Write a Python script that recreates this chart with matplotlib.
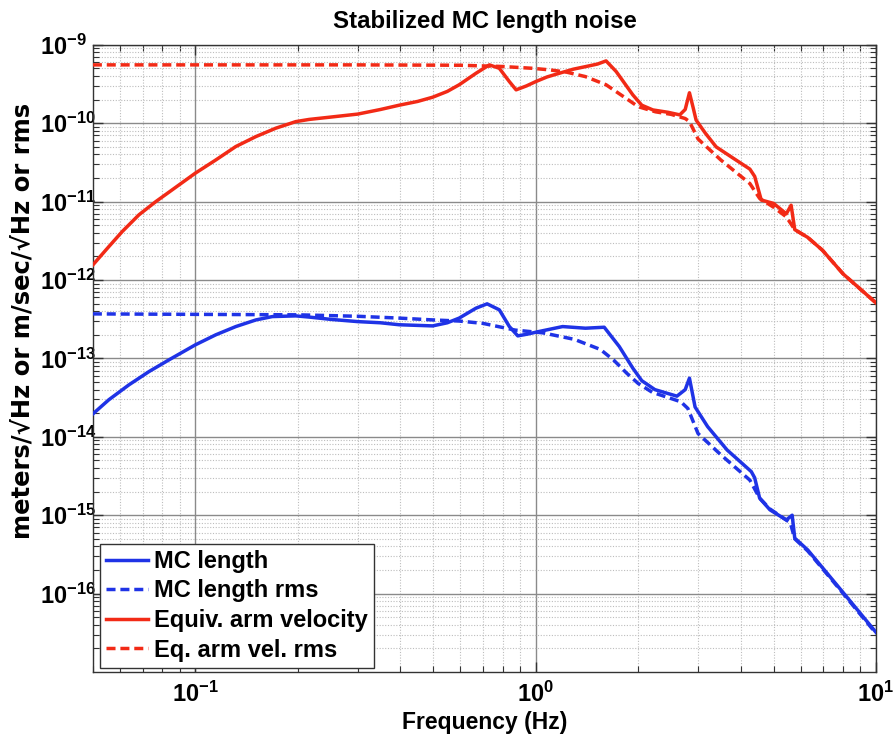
import numpy
import matplotlib
matplotlib.use('Agg')
import matplotlib.pyplot as plt
from matplotlib.ticker import LogLocator, FuncFormatter, NullFormatter

# (Hz, meters/rtHz or m/sec/rtHz)
arm_freq = [0.05, 0.0557, 0.061, 0.0683, 0.0765, 0.0856, 0.1, 0.1148, 0.1315, 0.1507,
            0.1724, 0.1973, 0.216, 0.25, 0.3, 0.35, 0.397, 0.45, 0.498, 0.55, 0.596,
            0.668, 0.731, 0.782, 0.837, 0.876, 0.94, 1.0, 1.08, 1.174, 1.29, 1.406,
            1.52, 1.61, 1.724, 1.93, 2.05, 2.21, 2.45, 2.65, 2.75, 2.83, 2.9, 2.96,
            3.15, 3.39, 3.8, 4.26, 4.4, 4.6, 5.0, 5.45, 5.63, 5.77, 6.3, 6.96, 8.0, 10.0]
arm_vel = [1.56e-12, 2.67e-12, 4.16e-12, 6.8e-12, 1.0e-11, 1.42e-11, 2.31e-11, 3.4e-11,
           5.05e-11, 6.77e-11, 8.66e-11, 1.05e-10, 1.12e-10, 1.2e-10, 1.31e-10, 1.5e-10,
           1.7e-10, 1.9e-10, 2.15e-10, 2.55e-10, 3.1e-10, 4.35e-10, 5.56e-10, 5.03e-10,
           3.4e-10, 2.67e-10, 3.0e-10, 3.4e-10, 3.9e-10, 4.35e-10, 4.9e-10, 5.3e-10,
           5.7e-10, 6.25e-10, 4.57e-10, 2.3e-10, 1.7e-10, 1.48e-10, 1.38e-10, 1.28e-10,
           1.5e-10, 2.45e-10, 1.6e-10, 1.1e-10, 7.5e-11, 5.0e-11, 3.6e-11, 2.6e-11,
           2.1e-11, 1.05e-11, 9.5e-12, 7.0e-12, 9.0e-12, 4.4e-12, 3.5e-12, 2.4e-12,
           1.2e-12, 5.1e-13]

arm_rms_freq = [0.05, 0.3, 0.6, 0.8, 0.977, 1.1, 1.23, 1.4, 1.61, 1.84, 2.0, 2.25, 2.5,
                2.75, 2.83, 3.0, 3.5, 4.26, 4.55, 5.0, 5.45, 5.77, 6.3, 6.96, 8.0, 10.0]
arm_rms = [5.56e-10, 5.56e-10, 5.5e-10, 5.3e-10, 5.03e-10, 4.8e-10, 4.5e-10, 3.94e-10,
           3.1e-10, 2.09e-10, 1.63e-10, 1.4e-10, 1.3e-10, 1.15e-10, 1.05e-10, 6.3e-11,
           3.4e-11, 1.7e-11, 1.1e-11, 8.5e-12, 6.4e-12, 4.4e-12, 3.5e-12, 2.4e-12,
           1.2e-12, 5.1e-13]

mc_freq = [0.05, 0.0557, 0.0638, 0.0731, 0.0837, 0.1, 0.1148, 0.1315, 0.1507, 0.1684,
           0.1973, 0.216, 0.25, 0.3, 0.35, 0.397, 0.498, 0.55, 0.596, 0.668, 0.72,
           0.782, 0.837, 0.886, 0.95, 1.02, 1.2, 1.4, 1.59, 1.76, 1.93, 2.05, 2.24,
           2.6, 2.75, 2.83, 2.94, 3.2, 3.65, 4.3, 4.4, 4.55, 4.88, 5.45, 5.67, 5.77,
           6.3, 7.8, 10.0]
mc_len = [1.96e-14, 2.97e-14, 4.6e-14, 6.8e-14, 9.6e-14, 1.49e-13, 2.0e-13, 2.55e-13,
          3.1e-13, 3.42e-13, 3.49e-13, 3.37e-13, 3.15e-13, 2.95e-13, 2.85e-13, 2.69e-13,
          2.6e-13, 2.85e-13, 3.27e-13, 4.38e-13, 4.97e-13, 4.17e-13, 2.55e-13, 1.94e-13,
          2.05e-13, 2.2e-13, 2.55e-13, 2.43e-13, 2.5e-13, 1.42e-13, 7.5e-14, 5.2e-14,
          4.0e-14, 3.3e-14, 4.0e-14, 5.6e-14, 2.4e-14, 1.35e-14, 6.8e-15, 3.6e-15,
          3.0e-15, 1.65e-15, 1.17e-15, 8.7e-16, 1.0e-15, 5.1e-16, 3.6e-16, 1.18e-16,
          3.2e-17]

mc_rms_freq = [0.05, 0.2, 0.3, 0.397, 0.498, 0.596, 0.7, 0.87, 1.05, 1.3, 1.55, 1.7,
               1.85, 2.0, 2.2, 2.67, 2.8, 3.0, 3.5, 4.26, 4.55, 4.88, 5.6, 5.77, 6.3,
               7.8, 10.0]
mc_rms = [3.7e-13, 3.6e-13, 3.45e-13, 3.27e-13, 3.1e-13, 3.0e-13, 2.8e-13, 2.3e-13,
          2.12e-13, 1.75e-13, 1.3e-13, 9.4e-14, 6.5e-14, 4.8e-14, 3.7e-14, 2.8e-14,
          2.3e-14, 1.1e-14, 5.9e-15, 2.8e-15, 1.65e-15, 1.2e-15, 8.0e-16, 5.0e-16,
          3.5e-16, 1.15e-16, 3.1e-17]

labels = ['MC length', 'MC length rms', 'Equiv. arm velocity', 'Eq. arm vel. rms']
x_decades = [-1, 0, 1]
y_decades = [-16, -15, -14, -13, -12, -11, -10, -9]

blue = '#1f33e6'
red = '#f22a16'
dashes = (0, (2.6, 1.4))

plt.rcParams['font.family'] = ['Liberation Sans', 'DejaVu Sans']
plt.rcParams['font.weight'] = 'bold'
plt.rcParams['mathtext.fontset'] = 'custom'
plt.rcParams['mathtext.rm'] = 'Liberation Sans:bold'
plt.rcParams['mathtext.bf'] = 'Liberation Sans:bold'
plt.rcParams['mathtext.it'] = 'Liberation Sans:bold'
plt.rcParams['mathtext.default'] = 'bf'

fig = plt.figure(figsize=(8.93, 7.36), dpi=100)
axs = fig.add_axes([0.104, 0.087, 0.877, 0.852])

axs.plot(mc_freq, mc_len, color=blue, lw=2.5, label=labels[0], zorder=4)
axs.plot(mc_rms_freq, mc_rms, color=blue, lw=2.5, ls=dashes, label=labels[1], zorder=3)
axs.plot(arm_freq, arm_vel, color=red, lw=2.5, label=labels[2], zorder=4)
axs.plot(arm_rms_freq, arm_rms, color=red, lw=2.5, ls=dashes, label=labels[3], zorder=3)

axs.set_xscale('log')
axs.set_yscale('log')
axs.set_xlim(0.05, 10)
axs.set_ylim(1e-17, 1e-9)

axs.set_xticks([10.0 ** e for e in x_decades])
axs.set_yticks([10.0 ** e for e in y_decades])
axs.xaxis.set_minor_locator(LogLocator(base=10, subs=numpy.arange(2, 10), numticks=50))
axs.yaxis.set_minor_locator(LogLocator(base=10, subs=numpy.arange(2, 10), numticks=50))

def decade_label(val, pos):
    return r'$10^{%d}$' % int(round(numpy.log10(val)))

axs.xaxis.set_major_formatter(FuncFormatter(decade_label))
axs.yaxis.set_major_formatter(FuncFormatter(decade_label))
axs.xaxis.set_minor_formatter(NullFormatter())
axs.yaxis.set_minor_formatter(NullFormatter())

axs.tick_params(which='both', direction='in', top=True, right=True, color='#333333')
axs.tick_params(which='major', length=7, width=1, labelsize=17)
axs.tick_params(which='minor', length=4, width=0.8)
axs.tick_params(axis='x', which='major', pad=7)
axs.tick_params(axis='y', which='major', pad=38)
for lab in axs.get_yticklabels():
    lab.set_horizontalalignment('left')

# major grid solid, minor dotted; the 1e-17 line is the bottom spine
axs.grid(True, which='major', color='#8a8a8a', lw=1.0, ls='-')
axs.grid(True, which='minor', color='#bdbdbd', lw=0.8, ls=(0, (1, 1.5)))
axs.set_axisbelow(True)
for sp in axs.spines.values():
    sp.set_color('#333333')
    sp.set_linewidth(1.0)

axs.set_title('Stabilized MC length noise', fontsize=17.3, fontweight='bold', pad=12)
axs.set_xlabel('Frequency (Hz)', fontsize=16.5, fontweight='bold', va='top')
axs.xaxis.set_label_coords(0.5, -0.062)
axs.set_ylabel('meters/\u221aHz or m/sec/\u221aHz or rms', fontsize=17.5,
               fontweight='bold', family='DejaVu Sans')
axs.yaxis.set_label_coords(-0.074, 0.56)

leg = axs.legend(loc='lower left', bbox_to_anchor=(0.009, 0.007), fontsize=17,
                 frameon=True, fancybox=False, edgecolor='#333333', framealpha=1,
                 handlelength=1.8, handletextpad=0.25, labelspacing=0.28,
                 borderpad=0.25, borderaxespad=0)
leg.get_frame().set_linewidth(1.0)
for text in leg.get_texts():
    text.set_fontweight('bold')

plt.savefig('out.png', dpi=100)
